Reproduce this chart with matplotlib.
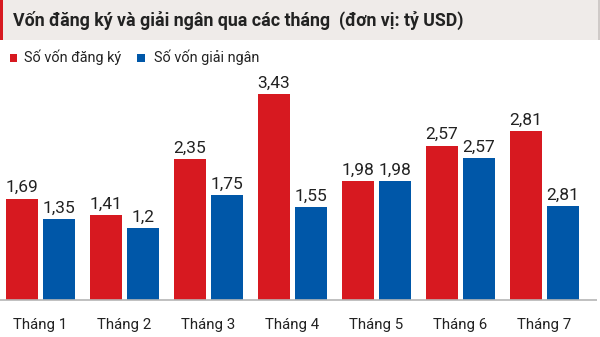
import matplotlib
matplotlib.use("Agg")
import matplotlib.pyplot as plt
from matplotlib.patches import Rectangle

categories = ["Tháng 1", "Tháng 2", "Tháng 3", "Tháng 4", "Tháng 5", "Tháng 6", "Tháng 7"]
registered = [1.69, 1.41, 2.35, 3.43, 1.98, 2.57, 2.81]
disbursed_heights = [1.35, 1.20, 1.75, 1.55, 1.98, 2.36, 1.56]
disbursed_labels = ["1,35", "1,2", "1,75", "1,55", "1,98", "2,57", "2,81"]
registered_labels = ["1,69", "1,41", "2,35", "3,43", "1,98", "2,57", "2,81"]
series_names = ["Số vốn đăng ký", "Số vốn giải ngân"]
title = "Vốn đăng ký và giải ngân qua các tháng  (đơn vị: tỷ USD)"

RED = "#d71920"
BLUE = "#0057a8"
W, H = 600, 337

plt.rcParams['font.family'] = ['Roboto', 'DejaVu Sans']
fig = plt.figure(figsize=(W/100, H/100), dpi=100)

def fx(px):
    return px / W

def fy(py):
    return 1 - py / H

# title bar
fig.patches.append(Rectangle((0, fy(40)), 1, 40/H, transform=fig.transFigure,
                             facecolor="#efebe9", edgecolor="none", zorder=0))
fig.patches.append(Rectangle((0, fy(40)), 3/W, 40/H, transform=fig.transFigure,
                             facecolor=RED, edgecolor="none", zorder=1))
fig.patches.append(Rectangle((fx(598), fy(40)), 2/W, 40/H, transform=fig.transFigure,
                             facecolor="#cfcac8", edgecolor="none", zorder=1))
fig.text(fx(13), fy(20.5), title, fontsize=12.8, fontweight="bold", color="#222222",
         va="center", ha="left")

# legend
for (sx, tx, col, name) in [(9.5, 24.5, RED, series_names[0]), (137, 153.5, BLUE, series_names[1])]:
    fig.patches.append(Rectangle((fx(sx), fy(61.5)), 7.5/W, 7.5/H, transform=fig.transFigure,
                                 facecolor=col, edgecolor="none"))
    fig.text(fx(tx), fy(57.5), name, fontsize=10.4, color="#222222", va="center", ha="left")

# axes
base_px = 300
unit_px = 60
ymax = 4.0
ax = fig.add_axes([0, (H - base_px)/H, 1, ymax*unit_px/H])
ax.set_ylim(0, ymax)
gc0, gstep = 40.5, 84
ax.set_xlim(-gc0/gstep, (W - gc0)/gstep)
ax.axis("off")

bw = 32/gstep
off = 18.5/gstep
xs = list(range(len(categories)))
ax.bar([x - off for x in xs], registered, width=bw, color=RED, zorder=2)
ax.bar([x + off for x in xs], disbursed_heights, width=bw, color=BLUE, zorder=2)
ax.plot([-gc0/gstep, (597 - gc0)/gstep], [0, 0], color="#b5b5b5", lw=1.2, zorder=3,
        clip_on=False, solid_capstyle="butt")

for x, v, lab in zip(xs, registered, registered_labels):
    ax.text(x - off, v + 0.06, lab, ha="center", va="bottom", fontsize=12.5, color="#222222")
for x, v, lab in zip(xs, disbursed_heights, disbursed_labels):
    ax.text(x + off, v + 0.06, lab, ha="center", va="bottom", fontsize=12.5, color="#222222")
for x, c in zip(xs, categories):
    ax.text(x, -0.42, c, ha="center", va="center", fontsize=10.8, color="#222222")

fig.savefig("out.png", dpi=100)
